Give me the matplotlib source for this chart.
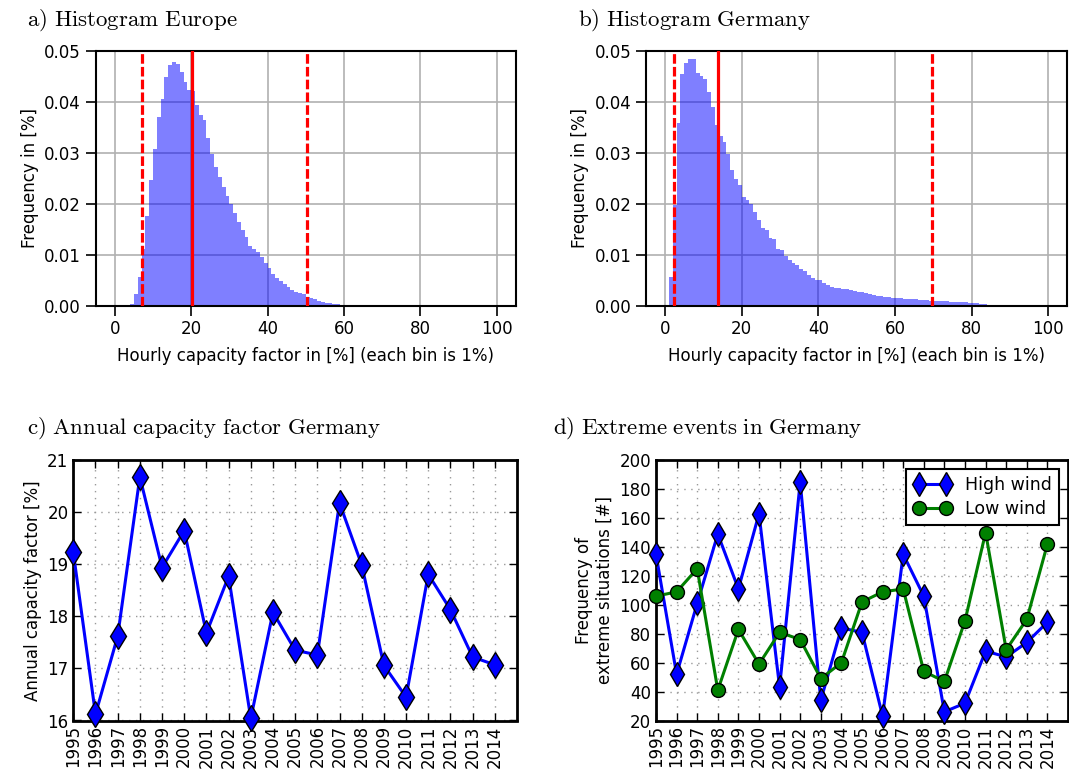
import numpy as np
import matplotlib.pyplot as plt

# --- hourly capacity factor histograms (1% bins, starting at 0%) ---
europe_freq = [0, 0, 0, 0, 0.0004, 0.0022, 0.0056, 0.0112, 0.0175, 0.0247,
               0.0308, 0.0370, 0.0406, 0.0449, 0.0472, 0.0478, 0.0473, 0.0459, 0.0439, 0.0423,
               0.0421, 0.0394, 0.0374, 0.0364, 0.0328, 0.0298, 0.0272, 0.0253, 0.0233, 0.0215,
               0.0200, 0.0181, 0.0164, 0.0149, 0.0135, 0.0118, 0.0112, 0.0105, 0.0096, 0.0084,
               0.0073, 0.0063, 0.0055, 0.0048, 0.0042, 0.0037, 0.0031, 0.0027, 0.0024, 0.0022,
               0.0017, 0.0015, 0.0013, 0.0010, 0.0008, 0.0006, 0.0005, 0.0004, 0.0003, 0.0002,
               0.0001, 0.0001, 0.0001, 0.0001, 0.0001]
germany_freq = [0, 0.0056, 0.0197, 0.0359, 0.0455, 0.0475, 0.0484, 0.0484, 0.0457, 0.0450,
                0.0444, 0.0420, 0.0389, 0.0354, 0.0332, 0.0321, 0.0298, 0.0266, 0.0249, 0.0236,
                0.0213, 0.0207, 0.0199, 0.0184, 0.0168, 0.0152, 0.0149, 0.0132, 0.0130, 0.0112,
                0.0109, 0.0097, 0.0089, 0.0084, 0.0080, 0.0071, 0.0069, 0.0060, 0.0055, 0.0051,
                0.0050, 0.0045, 0.0040, 0.0037, 0.0035, 0.0034, 0.0033, 0.0032, 0.0030, 0.0029,
                0.0027, 0.0026, 0.0025, 0.0023, 0.0021, 0.0020, 0.0019, 0.0018, 0.0017, 0.0016,
                0.0016, 0.0015, 0.0014, 0.0014, 0.0013, 0.0013, 0.0012, 0.0011, 0.0011, 0.0010,
                0.0010, 0.0009, 0.0009, 0.0009, 0.0008, 0.0008, 0.0008, 0.0007, 0.0007, 0.0006,
                0.0006, 0.0005, 0.0004, 0.0003, 0.0002, 0.0001]

# mean (solid) and 0.1% / 99.9% quantiles (dashed)
europe_mean = 20.2
europe_quant = [7.1, 50.3]
germany_mean = 13.8
germany_quant = [2.4, 69.8]

# --- annual values ---
years = list(range(1995, 2015))
annual_cf = [19.23, 16.12, 17.62, 20.68, 18.94, 19.65, 17.68, 18.77, 16.04, 18.08,
             17.35, 17.26, 20.18, 18.99, 17.06, 16.45, 18.81, 18.13, 17.22, 17.07]
high_wind = [135, 52, 101, 149, 111, 163, 43, 185, 34, 84,
             81, 23, 135, 106, 26, 32, 68, 64, 74, 88]
low_wind = [106, 109, 125, 41, 83, 59, 81, 76, 49, 60,
            102, 109, 111, 54, 47, 89, 150, 69, 90, 142]

plt.rcParams['font.family'] = 'DejaVu Sans'
plt.rcParams['font.size'] = 12
plt.rcParams['mathtext.fontset'] = 'cm'

fig = plt.figure(figsize=(10.69, 7.78), dpi=100)

W, H = 1069.0, 778.0


def box(x0, y0, x1, y1):
    return [x0 / W, 1 - y1 / H, (x1 - x0) / W, (y1 - y0) / H]


def hist_panel(ax, freq, mean, quant):
    edges = np.arange(len(freq) + 1)
    ax.stairs(freq, edges, fill=True, color='blue', alpha=0.5, linewidth=0)
    ax.axvline(mean, color='red', lw=2.3, zorder=3)
    for q in quant:
        ax.axvline(q, color='red', lw=2.3, linestyle=(0, (3, 1)), zorder=3)
    ax.set_xlim(-5, 105)
    ax.set_ylim(0, 0.05)
    ax.set_xticks(np.arange(0, 101, 20))
    ax.set_yticks(np.arange(0, 0.051, 0.01))
    ax.yaxis.set_major_formatter(plt.FormatStrFormatter('%.2f'))
    ax.grid(True, color='#b0b0b0', lw=1.2, linestyle='-')
    ax.set_axisbelow(True)
    ax.tick_params(direction='out', length=7, width=1.2, top=False, right=False)
    for s in ax.spines.values():
        s.set_linewidth(1.5)
    ax.set_xlabel('Hourly capacity factor in [%] (each bin is 1%)', labelpad=6)
    ax.set_ylabel('Frequency in [%]')


ax_a = fig.add_axes(box(95.7, 50.7, 515.7, 305.7))
hist_panel(ax_a, europe_freq, europe_mean, europe_quant)

ax_b = fig.add_axes(box(646, 50.7, 1067.3, 305.7))
hist_panel(ax_b, germany_freq, germany_mean, germany_quant)


def year_panel(ax):
    ax.set_xlim(1995, 2015)
    ax.set_xticks(years)
    ax.set_xticklabels([str(y) for y in years], rotation=90)
    ax.grid(True, color='#999999', lw=1, linestyle=(0, (1, 4)))
    ax.tick_params(direction='in', length=6, width=1, top=True, right=True)
    for s in ax.spines.values():
        s.set_linewidth(2)


ax_c = fig.add_axes(box(73.3, 460.3, 517, 720.5))
ax_c.plot(years, annual_cf, color='blue', lw=2.2, marker='d', ms=13,
          mfc='blue', mec='black', mew=1, clip_on=False, zorder=4)
ax_c.set_ylim(16, 21)
ax_c.set_yticks(range(16, 22))
ax_c.set_ylabel('Annual capacity factor [%]')
year_panel(ax_c)

ax_d = fig.add_axes(box(656, 460.3, 1068, 720.5))
ax_d.plot(years, high_wind, color='blue', lw=2.2, marker='d', ms=12,
          mfc='blue', mec='black', mew=1, clip_on=False, zorder=4, label='High wind')
ax_d.plot(years, low_wind, color='green', lw=2.2, marker='o', ms=10,
          mfc='green', mec='black', mew=1, clip_on=False, zorder=4, label='Low wind')
ax_d.set_ylim(20, 200)
ax_d.set_yticks(range(20, 201, 20))
ax_d.set_ylabel('Frequency of\nextreme situations [#]')
year_panel(ax_d)
leg = ax_d.legend(loc='upper right', numpoints=2, fancybox=False, framealpha=1,
                  edgecolor='black', fontsize=12.5, borderaxespad=0.5,
                  handlelength=2.2, handletextpad=0.8, labelspacing=0.35)
leg.get_frame().set_linewidth(1.5)

# panel titles
title_kw = dict(fontsize=16.5, ha='left', va='baseline')
fig.text(26.7 / W, 1 - 26 / H, r'$\mathrm{a)\ Histogram\ Europe}$', **title_kw)
fig.text(578 / W, 1 - 26 / H, r'$\mathrm{b)\ Histogram\ Germany}$', **title_kw)
fig.text(26.7 / W, 1 - 433.3 / H, r'$\mathrm{c)\ Annual\ capacity\ factor\ Germany}$', **title_kw)
fig.text(553 / W, 1 - 433.3 / H, r'$\mathrm{d)\ Extreme\ events\ in\ Germany}$', **title_kw)

fig.savefig('out.png', dpi=100)
